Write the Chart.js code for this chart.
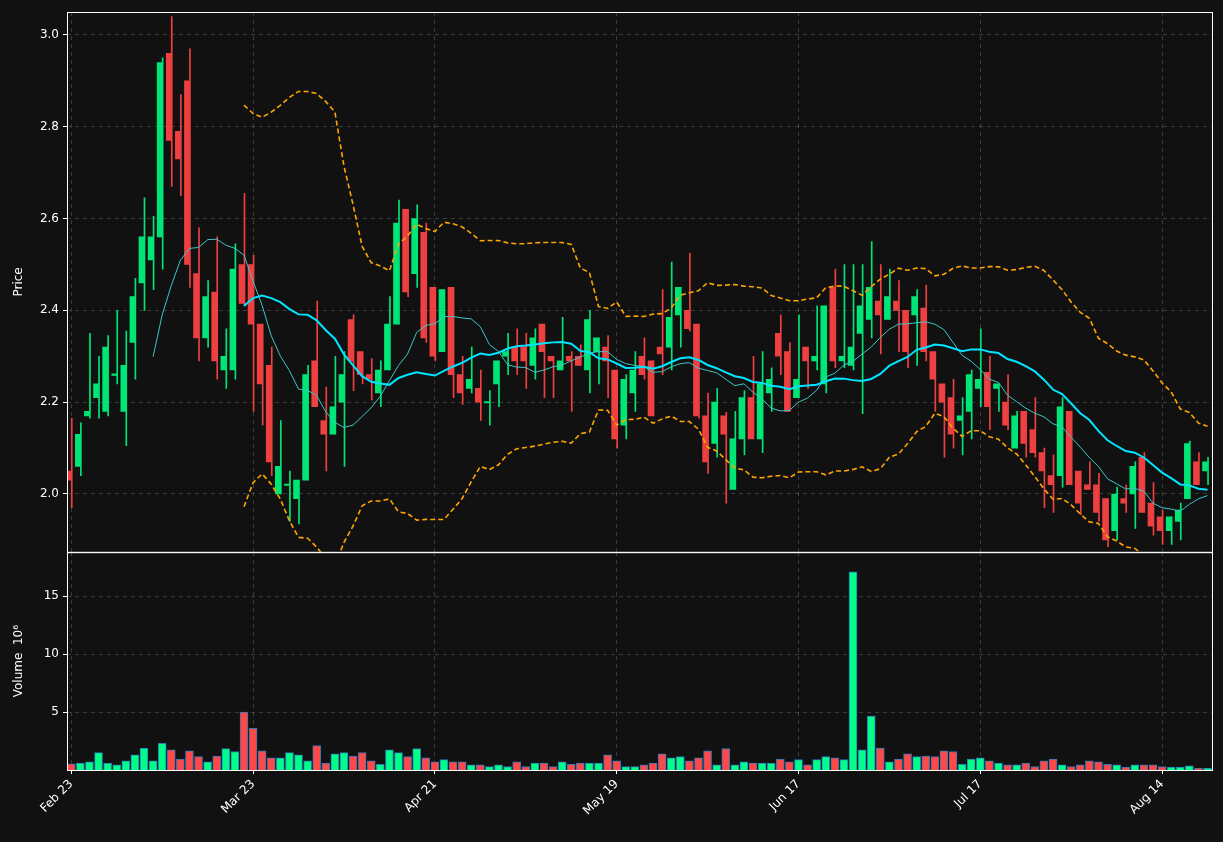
<!DOCTYPE html>
<html>
<head>
<meta charset="utf-8">
<script src="https://cdn.jsdelivr.net/npm/chart.js@4.4.0/dist/chart.umd.min.js"></script>
<style>
  html, body { margin: 0; padding: 0; background: #111111; overflow: hidden; }
  #wrap { position: relative; width: 1223px; height: 842px; }
  #priceBox { position: absolute; left: 0; top: 0; width: 1223px; height: 563px; }
  #volBox { position: absolute; left: 0; top: 541px; width: 1223px; height: 301px; }
</style>
</head>
<body>
<div id="wrap">
  <div id="priceBox"><canvas id="priceChart"></canvas></div>
  <div id="volBox"><canvas id="volChart"></canvas></div>
</div>
<script>
/* ── Data (one entry per trading day) ── */
const opens = [2.05,2.06,2.17,2.21,2.18,2.26,2.18,2.33,2.46,2.51,
  2.56,2.96,2.79,2.90,2.48,2.34,2.44,2.27,2.27,2.50,
  2.50,2.37,2.28,2.00,2.02,1.99,2.03,2.29,2.16,2.13,
  2.20,2.38,2.31,2.26,2.22,2.27,2.37,2.62,2.48,2.57,
  2.45,2.31,2.45,2.26,2.23,2.23,2.20,2.24,2.30,2.32,
  2.32,2.28,2.37,2.30,2.27,2.30,2.30,2.27,2.31,2.32,
  2.27,2.15,2.22,2.30,2.29,2.32,2.32,2.39,2.40,2.37,
  2.17,2.11,2.17,2.01,2.12,2.21,2.12,2.22,2.35,2.31,
  2.21,2.32,2.29,2.24,2.45,2.29,2.28,2.35,2.38,2.42,
  2.38,2.42,2.40,2.39,2.405,2.31,2.24,2.21,2.16,2.18,
  2.23,2.265,2.23,2.20,2.10,2.18,2.14,2.09,2.04,2.04,
  2.18,2.05,2.02,2.02,1.99,1.92,1.99,2.00,2.08,1.98,
  1.95,1.92,1.94,1.99,2.07,2.05];
const highs = [2.165,2.155,2.35,2.30,2.345,2.40,2.355,2.47,2.645,2.605,
  2.95,3.04,2.87,2.97,2.58,2.465,2.56,2.36,2.545,2.655,
  2.52,2.37,2.32,2.16,2.05,2.03,2.28,2.42,2.233,2.30,
  2.31,2.39,2.31,2.295,2.29,2.43,2.64,2.62,2.63,2.59,
  2.45,2.445,2.45,2.30,2.32,2.27,2.225,2.29,2.35,2.36,
  2.35,2.36,2.37,2.30,2.385,2.31,2.325,2.40,2.34,2.345,
  2.27,2.26,2.31,2.34,2.29,2.445,2.505,2.45,2.525,2.37,
  2.22,2.23,2.178,2.18,2.225,2.30,2.31,2.275,2.39,2.33,
  2.39,2.32,2.41,2.41,2.49,2.50,2.50,2.50,2.55,2.50,
  2.49,2.465,2.40,2.445,2.455,2.31,2.24,2.25,2.21,2.27,
  2.36,2.30,2.24,2.26,2.18,2.18,2.21,2.10,2.085,2.21,
  2.18,2.05,2.07,2.045,1.99,2.015,2.02,2.07,2.09,2.025,
  1.965,1.95,1.98,2.115,2.09,2.08];
const lows = [1.97,2.04,2.165,2.165,2.17,2.24,2.105,2.25,2.40,2.445,
  2.49,2.67,2.65,2.45,2.29,2.32,2.25,2.23,2.25,2.41,
  2.18,2.15,2.04,2.00,1.94,1.935,2.03,2.19,2.05,2.13,
  2.06,2.225,2.24,2.205,2.19,2.27,2.37,2.43,2.45,2.33,
  2.29,2.31,2.21,2.195,2.22,2.16,2.15,2.19,2.26,2.26,
  2.23,2.25,2.21,2.21,2.27,2.18,2.28,2.22,2.24,2.21,
  2.10,2.12,2.18,2.25,2.17,2.26,2.27,2.32,2.355,2.165,
  2.045,2.08,1.98,2.01,2.085,2.12,2.09,2.18,2.26,2.18,
  2.21,2.23,2.27,2.22,2.275,2.275,2.27,2.175,2.34,2.305,
  2.38,2.31,2.275,2.28,2.29,2.18,2.08,2.10,2.085,2.12,
  2.19,2.14,2.18,2.14,2.10,2.08,2.08,1.97,1.96,2.015,
  2.02,1.955,2.01,1.94,1.885,1.90,1.96,1.925,1.96,1.91,
  1.89,1.89,1.90,1.99,2.02,2.02];
const closes = [2.03,2.13,2.18,2.24,2.32,2.26,2.28,2.43,2.56,2.56,
  2.94,2.77,2.73,2.50,2.34,2.43,2.29,2.30,2.49,2.415,
  2.37,2.24,2.07,2.06,2.02,2.03,2.26,2.19,2.13,2.19,
  2.26,2.29,2.26,2.25,2.27,2.37,2.59,2.44,2.60,2.34,
  2.30,2.445,2.26,2.22,2.25,2.20,2.20,2.29,2.31,2.29,
  2.29,2.34,2.31,2.29,2.29,2.29,2.28,2.38,2.34,2.29,
  2.12,2.25,2.27,2.26,2.17,2.305,2.385,2.45,2.36,2.17,
  2.07,2.20,2.13,2.12,2.21,2.12,2.24,2.25,2.30,2.18,
  2.25,2.29,2.30,2.41,2.29,2.30,2.32,2.41,2.45,2.39,
  2.43,2.40,2.31,2.43,2.31,2.25,2.20,2.13,2.17,2.26,
  2.25,2.19,2.24,2.15,2.17,2.11,2.09,2.05,2.02,2.19,
  2.02,1.98,2.01,1.96,1.90,2.00,1.98,2.06,1.96,1.93,
  1.92,1.95,1.965,2.11,2.02,2.07];
const volumes = [0.53,0.6,0.7,1.5,0.6,0.45,0.8,1.3,1.9,0.8,
  2.3,1.75,0.95,1.65,1.15,0.7,1.2,1.85,1.6,5.0,
  3.6,1.65,1.05,1.05,1.5,1.3,0.8,2.1,0.6,1.4,
  1.5,1.2,1.5,0.8,0.5,1.75,1.5,1.15,1.85,1.05,
  0.7,0.9,0.7,0.7,0.45,0.45,0.3,0.45,0.3,0.7,
  0.3,0.6,0.6,0.3,0.7,0.5,0.6,0.6,0.6,1.3,
  0.8,0.3,0.3,0.45,0.6,1.4,1.05,1.15,0.8,1.05,
  1.65,0.45,1.85,0.45,0.7,0.6,0.6,0.6,0.95,0.7,
  0.9,0.45,0.9,1.15,1.05,0.9,17.1,1.75,4.65,1.9,
  0.7,0.95,1.4,1.15,1.2,1.15,1.65,1.6,0.5,0.95,
  1.05,0.8,0.6,0.45,0.45,0.6,0.3,0.8,0.95,0.45,
  0.3,0.45,0.8,0.7,0.5,0.45,0.25,0.45,0.45,0.45,
  0.3,0.25,0.25,0.35,0.15,0.15];
const tickIdx = [0, 20, 40, 60, 80, 100, 120];
const tickLabels = ['Feb 23', 'Mar 23', 'Apr 21', 'May 19', 'Jun 17', 'Jul 17', 'Aug 14'];
const priceTicks = [2.0, 2.2, 2.4, 2.6, 2.8, 3.0];
const volTicks = [5, 10, 15];

/* ── Styles ── */
const UP = '#00e676', DOWN = '#ee4040';
const VOL_UP = '#00ff88', VOL_DOWN = '#ff4848';
const GRID = 'rgba(255,255,255,0.18)';
const FONT = { family: "'DejaVu Sans'", size: 12 };
const X_MIN = -0.47, X_MAX = 125.6;
const LEFT_W = 67;

const up = closes.map((c, i) => c >= opens[i]);

// moving average / bollinger from closes
function sma(n) {
    return closes.map((_, i) => {
        if (i < n - 1) return null;
        const w = closes.slice(i - n + 1, i + 1);
        return { x: i, y: w.reduce((a, b) => a + b, 0) / n };
    }).filter(Boolean);
}
function band(n, k) {
    return closes.map((_, i) => {
        if (i < n - 1) return null;
        const w = closes.slice(i - n + 1, i + 1);
        const m = w.reduce((a, b) => a + b, 0) / n;
        const sd = Math.sqrt(w.reduce((a, b) => a + (b - m) * (b - m), 0) / n);
        return { x: i, y: m + k * sd };
    }).filter(Boolean);
}

const frame = {
    id: 'frame',
    afterDraw(chart) {
        const a = chart.chartArea, ctx = chart.ctx;
        ctx.save();
        ctx.strokeStyle = '#ffffff';
        ctx.lineWidth = 1;
        ctx.strokeRect(a.left + 0.5, a.top + 0.5, a.right - a.left - 1, a.bottom - a.top);
        ctx.restore();
    }
};

function xScale(showTicks) {
    return {
        type: 'linear', min: X_MIN, max: X_MAX, offset: false,
        afterBuildTicks: s => { s.ticks = tickIdx.map(v => ({ value: v })); },
        afterFit: s => { s.height = showTicks ? 72 : 0; },
        grid: { color: GRID, offset: false, tickColor: '#ffffff', drawTicks: showTicks, tickLength: 4, tickBorderDash: [0] },
        border: { display: false, dash: [4, 4] },
        ticks: {
            display: showTicks, color: '#ffffff', font: FONT,
            maxRotation: 45, minRotation: 45, autoSkip: false,
            callback: v => tickLabels[tickIdx.indexOf(v)] || ''
        }
    };
}

function yScale(min, max, ticks, title, fmt) {
    return {
        min: min, max: max,
        afterBuildTicks: s => { s.ticks = ticks.map(v => ({ value: v })); },
        afterFit: s => { s.width = LEFT_W; },
        grid: { color: GRID, tickColor: '#ffffff', tickLength: 4, tickBorderDash: [0] },
        border: { display: false, dash: [4, 4] },
        ticks: { color: '#ffffff', font: FONT, padding: 4, callback: fmt },
        title: { display: true, text: title, color: '#ffffff', font: FONT, padding: { top: 12, bottom: 2 } }
    };
}

/* ── Price chart ── */
new Chart(document.getElementById('priceChart'), {
    data: {
        datasets: [
            {
                type: 'bar', label: 'wick',
                data: highs.map((h, i) => ({ x: i, y: [lows[i], h] })),
                backgroundColor: up.map(u => u ? UP : DOWN),
                barThickness: 1, order: 3
            },
            {
                type: 'bar', label: 'body',
                data: opens.map((o, i) => {
                    let a = Math.min(o, closes[i]), b = Math.max(o, closes[i]);
                    if (b - a < 0.003) { a -= 0.0015; b += 0.0015; }
                    return { x: i, y: [a, b] };
                }),
                backgroundColor: up.map(u => u ? UP : DOWN),
                barThickness: 5, order: 2
            },
            { type: 'line', label: 'MA10', data: sma(10), borderColor: '#3cc8c8', borderWidth: 1, pointRadius: 0, order: 1 },
            { type: 'line', label: 'MA20', data: sma(20), borderColor: '#00e5ff', borderWidth: 2, pointRadius: 0, order: 0 },
            { type: 'line', label: 'BB up', data: band(20, 2), borderColor: '#ffa500', borderWidth: 1.6, borderDash: [5, 3], pointRadius: 0, order: 0 },
            { type: 'line', label: 'BB low', data: band(20, -2), borderColor: '#ffa500', borderWidth: 1.6, borderDash: [5, 3], pointRadius: 0, order: 0 }
        ]
    },
    options: {
        responsive: true, maintainAspectRatio: false, animation: false,
        layout: { padding: { top: 12, right: 10, bottom: 0, left: 0 } },
        plugins: { legend: { display: false }, tooltip: { enabled: false } },
        scales: {
            x: xScale(false),
            y: yScale(1.874, 3.05, priceTicks, 'Price', v => v.toFixed(1))
        }
    },
    plugins: [frame]
});

/* ── Volume chart ── */
new Chart(document.getElementById('volChart'), {
    type: 'bar',
    data: {
        datasets: [{
            data: volumes.map((v, i) => ({ x: i, y: v })),
            backgroundColor: up.map(u => u ? VOL_UP : VOL_DOWN),
            borderColor: '#2a7ab8', borderWidth: 1,
            barThickness: 8
        }]
    },
    options: {
        responsive: true, maintainAspectRatio: false, animation: false,
        layout: { padding: { top: 0, right: 10, bottom: 0, left: 0 } },
        plugins: { legend: { display: false }, tooltip: { enabled: false } },
        scales: {
            x: xScale(true),
            y: yScale(0, 18.8, volTicks, 'Volume  10\u2076', v => String(v))
        }
    },
    plugins: [frame]
});
</script>
</body>
</html>
